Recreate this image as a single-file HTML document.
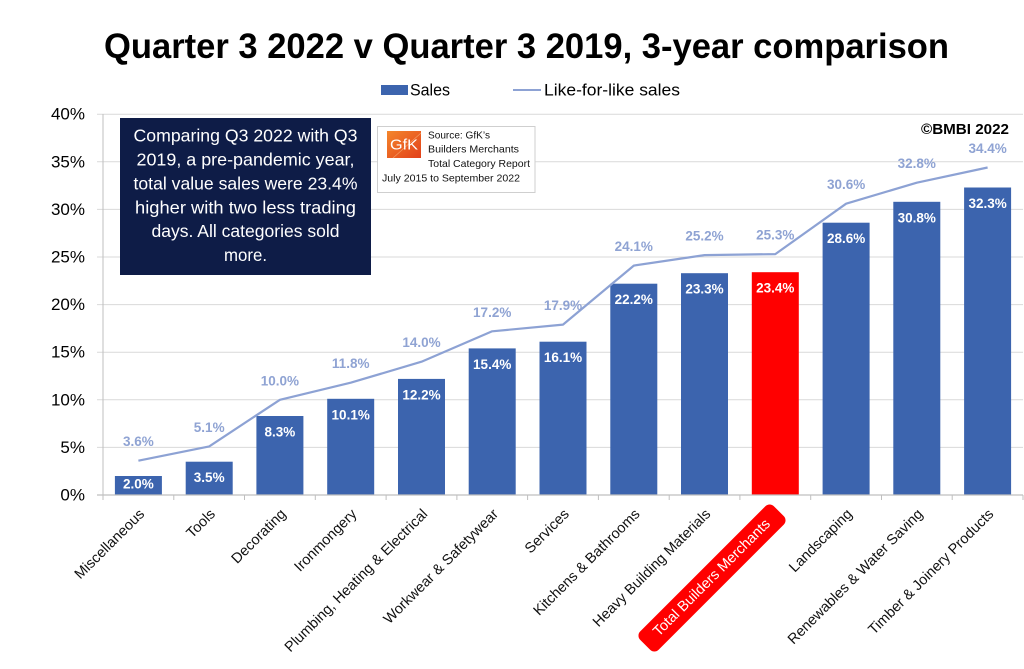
<!DOCTYPE html>
<html>
<head>
<meta charset="utf-8">
<style>
  html,body{margin:0;padding:0;background:#fff;}
  svg{display:block;}
  text{font-family:"Liberation Sans",Arial,sans-serif;}
</style>
</head>
<body>
<svg width="1024" height="669" viewBox="0 0 1024 669" xmlns="http://www.w3.org/2000/svg">
  <defs>
    <linearGradient id="gfk" x1="0" y1="0" x2="1" y2="1">
      <stop offset="0" stop-color="#f4862c"/>
      <stop offset="1" stop-color="#e2401a"/>
    </linearGradient>
  </defs>
  <rect width="1024" height="669" fill="#fff"/>

  <!-- Title -->
  <text x="104" y="58" font-size="35" font-weight="bold" fill="#000" textLength="845" lengthAdjust="spacingAndGlyphs">Quarter 3 2022 v Quarter 3 2019, 3-year comparison</text>

  <!-- Legend -->
  <rect x="381" y="85" width="27" height="10" fill="#3c64ae"/>
  <text x="410" y="90" font-size="17" fill="#000" dominant-baseline="central" textLength="40" lengthAdjust="spacingAndGlyphs">Sales</text>
  <line x1="513" y1="90" x2="541" y2="90" stroke="#8da2d4" stroke-width="2"/>
  <text x="544" y="90" font-size="17" fill="#000" dominant-baseline="central" textLength="136" lengthAdjust="spacingAndGlyphs">Like-for-like sales</text>

  <!-- Gridlines -->
  <g stroke="#d9d9d9" stroke-width="1">
    <line x1="97" y1="447.4" x2="1023" y2="447.4"/>
    <line x1="97" y1="399.8" x2="1023" y2="399.8"/>
    <line x1="97" y1="352.2" x2="1023" y2="352.2"/>
    <line x1="97" y1="304.6" x2="1023" y2="304.6"/>
    <line x1="97" y1="257" x2="1023" y2="257"/>
    <line x1="97" y1="209.4" x2="1023" y2="209.4"/>
    <line x1="97" y1="161.8" x2="1023" y2="161.8"/>
    <line x1="97" y1="114.2" x2="1023" y2="114.2"/>
  </g>

  <!-- Y axis labels -->
  <g font-size="17" fill="#000" text-anchor="end" dominant-baseline="central">
    <text x="85" y="495">0%</text>
    <text x="85" y="447.4">5%</text>
    <text x="85" y="399.8">10%</text>
    <text x="85" y="352.2">15%</text>
    <text x="85" y="304.6">20%</text>
    <text x="85" y="257">25%</text>
    <text x="85" y="209.4">30%</text>
    <text x="85" y="161.8">35%</text>
    <text x="85" y="114.2">40%</text>
  </g>

  <!-- Bars -->
  <g fill="#3c64ae">
    <rect x="114.9" y="476.0" width="47" height="19.0"/>
    <rect x="185.7" y="461.7" width="47" height="33.3"/>
    <rect x="256.4" y="416.0" width="47" height="79.0"/>
    <rect x="327.2" y="398.8" width="47" height="96.2"/>
    <rect x="398.0" y="378.9" width="47" height="116.1"/>
    <rect x="468.7" y="348.4" width="47" height="146.6"/>
    <rect x="539.5" y="341.7" width="47" height="153.3"/>
    <rect x="610.3" y="283.7" width="47" height="211.3"/>
    <rect x="681.0" y="273.2" width="47" height="221.8"/>
    <rect x="822.6" y="222.7" width="47" height="272.3"/>
    <rect x="893.3" y="201.8" width="47" height="293.2"/>
    <rect x="964.1" y="187.5" width="47" height="307.5"/>
  </g>
  <rect x="751.8" y="272.2" width="47" height="222.8" fill="#ff0000"/>

  <!-- Axes -->
  <line x1="103" y1="114" x2="103" y2="495" stroke="#bfbfbf" stroke-width="1"/>
  <line x1="97" y1="495" x2="1023" y2="495" stroke="#bfbfbf" stroke-width="1.2"/>
  <g stroke="#bfbfbf" stroke-width="1">
    <line x1="103" y1="495" x2="103" y2="500"/>
    <line x1="173.8" y1="495" x2="173.8" y2="500"/>
    <line x1="244.5" y1="495" x2="244.5" y2="500"/>
    <line x1="315.3" y1="495" x2="315.3" y2="500"/>
    <line x1="386.1" y1="495" x2="386.1" y2="500"/>
    <line x1="456.9" y1="495" x2="456.9" y2="500"/>
    <line x1="527.6" y1="495" x2="527.6" y2="500"/>
    <line x1="598.4" y1="495" x2="598.4" y2="500"/>
    <line x1="669.2" y1="495" x2="669.2" y2="500"/>
    <line x1="739.9" y1="495" x2="739.9" y2="500"/>
    <line x1="810.7" y1="495" x2="810.7" y2="500"/>
    <line x1="881.5" y1="495" x2="881.5" y2="500"/>
    <line x1="952.2" y1="495" x2="952.2" y2="500"/>
    <line x1="1023" y1="495" x2="1023" y2="500"/>
  </g>

  <!-- Bar value labels -->
  <g font-size="13.5" font-weight="bold" fill="#fff" text-anchor="middle" dominant-baseline="central">
    <text x="138.4" y="484">2.0%</text>
    <text x="209.2" y="477.7">3.5%</text>
    <text x="279.9" y="432">8.3%</text>
    <text x="350.7" y="414.8">10.1%</text>
    <text x="421.5" y="394.9">12.2%</text>
    <text x="492.2" y="364.4">15.4%</text>
    <text x="563.0" y="357.7">16.1%</text>
    <text x="633.8" y="299.7">22.2%</text>
    <text x="704.5" y="289.2">23.3%</text>
    <text x="775.3" y="288.2">23.4%</text>
    <text x="846.1" y="238.7">28.6%</text>
    <text x="916.8" y="217.8">30.8%</text>
    <text x="987.6" y="203.5">32.3%</text>
  </g>

  <!-- Like-for-like line -->
  <polyline fill="none" stroke="#8da2d4" stroke-width="2.2" stroke-linejoin="round"
    points="138.4,460.7 209.2,446.4 279.9,399.8 350.7,382.7 421.5,361.7 492.2,331.3 563.0,324.6 633.8,265.6 704.5,255.1 775.3,254.1 846.1,203.7 916.8,182.7 987.6,167.5"/>
  <g font-size="13.5" font-weight="bold" fill="#8fa3d3" text-anchor="middle" dominant-baseline="central">
    <text x="138.4" y="441.7">3.6%</text>
    <text x="209.2" y="427.4">5.1%</text>
    <text x="279.9" y="380.8">10.0%</text>
    <text x="350.7" y="363.7">11.8%</text>
    <text x="421.5" y="342.7">14.0%</text>
    <text x="492.2" y="312.3">17.2%</text>
    <text x="563.0" y="305.6">17.9%</text>
    <text x="633.8" y="246.6">24.1%</text>
    <text x="704.5" y="236.1">25.2%</text>
    <text x="775.3" y="235.1">25.3%</text>
    <text x="846.1" y="184.7">30.6%</text>
    <text x="916.8" y="163.7">32.8%</text>
    <text x="987.6" y="148.5">34.4%</text>
  </g>

  <!-- Category labels -->
  <g font-size="14.5" fill="#111" text-anchor="end" dominant-baseline="central">
    <text transform="translate(142.4,512) rotate(-45)">Miscellaneous</text>
    <text transform="translate(213.2,512) rotate(-45)">Tools</text>
    <text transform="translate(283.9,512) rotate(-45)">Decorating</text>
    <text transform="translate(354.7,512) rotate(-45)">Ironmongery</text>
    <text transform="translate(425.5,512) rotate(-45)">Plumbing, Heating &amp; Electrical</text>
    <text transform="translate(496.2,512) rotate(-45)">Workwear &amp; Safetywear</text>
    <text transform="translate(567.0,512) rotate(-45)">Services</text>
    <text transform="translate(637.8,512) rotate(-45)">Kitchens &amp; Bathrooms</text>
    <text transform="translate(708.5,512) rotate(-45)">Heavy Building Materials</text>
    <text transform="translate(850.1,512) rotate(-45)">Landscaping</text>
    <text transform="translate(920.8,512) rotate(-45)">Renewables &amp; Water Saving</text>
    <text transform="translate(991.6,512) rotate(-45)">Timber &amp; Joinery Products</text>
  </g>
  <g transform="translate(712,578) rotate(-45)">
    <rect x="-94.5" y="-13" width="189" height="26" rx="6" fill="#ff0000"/>
    <text x="0" y="0" font-size="14.5" fill="#fff" text-anchor="middle" dominant-baseline="central">Total Builders Merchants</text>
  </g>

  <!-- Comment box -->
  <rect x="120" y="118" width="251" height="157" fill="#0e1c47"/>
  <g font-size="17.5" fill="#fff" text-anchor="middle" dominant-baseline="central">
    <text x="245.5" y="135.7" textLength="224" lengthAdjust="spacingAndGlyphs">Comparing Q3 2022 with Q3</text>
    <text x="245.5" y="159.3" textLength="218" lengthAdjust="spacingAndGlyphs">2019, a pre-pandemic year,</text>
    <text x="245.5" y="183.3" textLength="224" lengthAdjust="spacingAndGlyphs">total value sales were 23.4%</text>
    <text x="245.5" y="207.3" textLength="221" lengthAdjust="spacingAndGlyphs">higher with two less trading</text>
    <text x="245.5" y="231" textLength="188" lengthAdjust="spacingAndGlyphs">days. All categories sold</text>
    <text x="245.5" y="255" textLength="43" lengthAdjust="spacingAndGlyphs">more.</text>
  </g>

  <!-- GfK source box -->
  <rect x="377.5" y="126.5" width="157.5" height="66" fill="#fff" stroke="#cfcfcf" stroke-width="1"/>
  <rect x="387" y="131" width="34" height="27" fill="url(#gfk)"/>
  <line x1="393" y1="158" x2="421" y2="133" stroke="#f8b27a" stroke-width="0.8" opacity="0.7"/>
  <text x="404" y="145" font-size="15" fill="#fff" text-anchor="middle" dominant-baseline="central" textLength="28" lengthAdjust="spacingAndGlyphs">GfK</text>
  <g font-size="10.5" fill="#111" dominant-baseline="central">
    <text x="428" y="135.7" textLength="62" lengthAdjust="spacingAndGlyphs">Source: GfK’s</text>
    <text x="428" y="149.5" textLength="91" lengthAdjust="spacingAndGlyphs">Builders Merchants</text>
    <text x="428" y="164" textLength="102" lengthAdjust="spacingAndGlyphs">Total Category Report</text>
    <text x="382" y="178.3" textLength="138" lengthAdjust="spacingAndGlyphs">July 2015 to September 2022</text>
  </g>

  <!-- Copyright -->
  <text x="921" y="129.3" font-size="15.2" font-weight="bold" fill="#000" dominant-baseline="central" textLength="88" lengthAdjust="spacingAndGlyphs">©BMBI 2022</text>
</svg>
</body>
</html>
